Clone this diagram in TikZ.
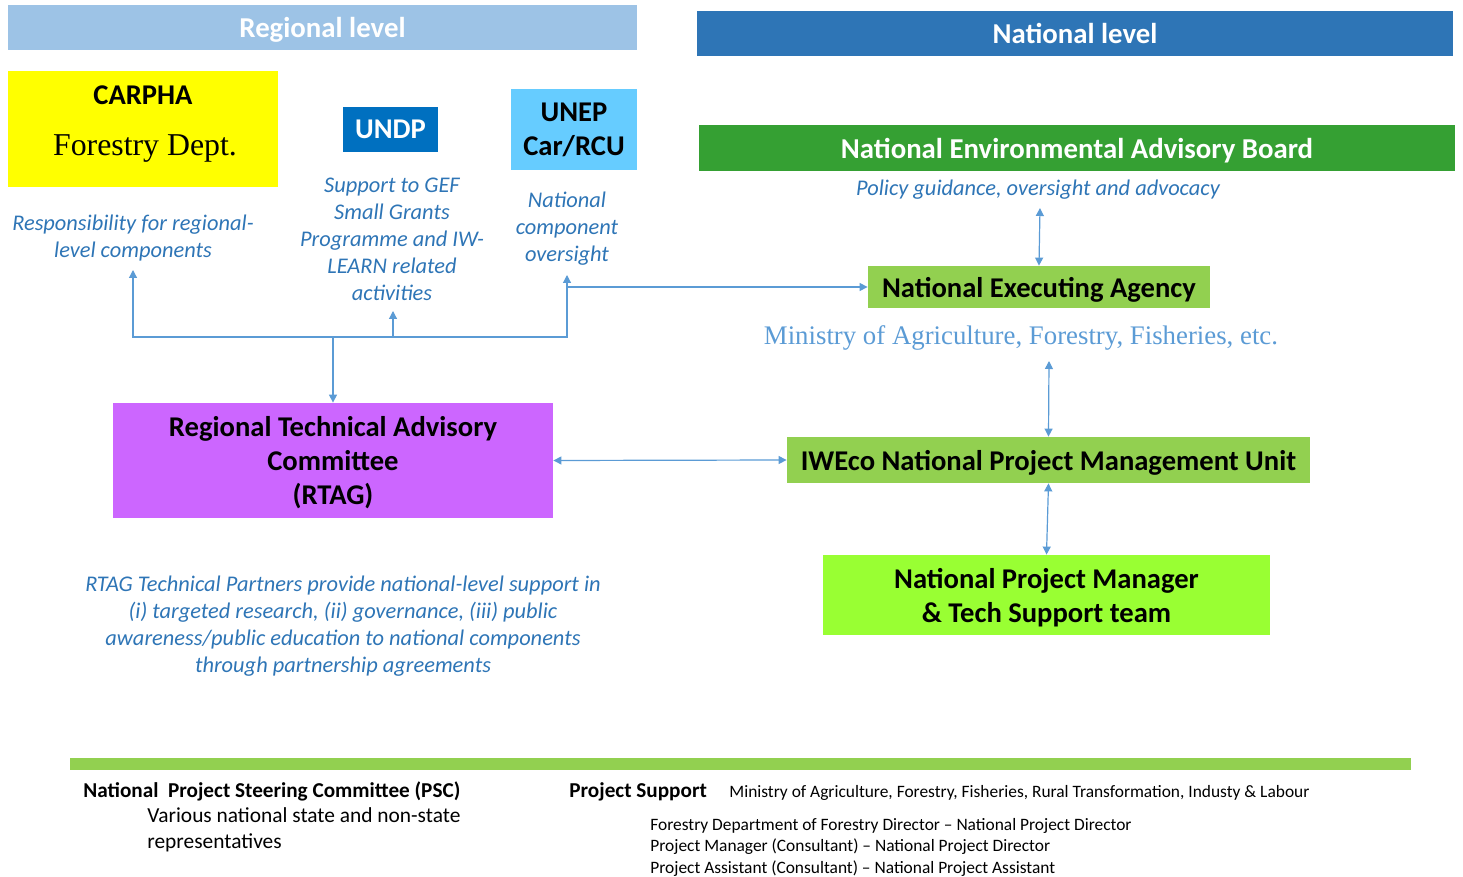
\documentclass[tikz,border=0pt]{standalone}
\usepackage{fontspec}
\setmainfont{Carlito}
\newfontfamily\timesfont{Liberation Serif}
\usetikzlibrary{arrows.meta,calc}
\definecolor{regionalbar}{HTML}{9DC3E6}
\definecolor{nationalbar}{HTML}{2E75B6}
\definecolor{carpha}{HTML}{FFFF00}
\definecolor{undp}{HTML}{0070C0}
\definecolor{unep}{HTML}{66CCFF}
\definecolor{neab}{HTML}{35A033}
\definecolor{leaf}{HTML}{92D050}
\definecolor{rtag}{HTML}{CC66FF}
\definecolor{lime}{HTML}{99FF33}
\definecolor{noteblue}{HTML}{2E75B6}
\definecolor{softblue}{HTML}{5B9BD5}
\tikzset{
  level bar/.style={inner sep=0pt, text depth=0pt, text=white, font=\bfseries\fontsize{14.4}{17}\selectfont},
  org box/.style={inner sep=0pt, text depth=0pt, align=center, font=\bfseries\fontsize{14.3}{17}\selectfont},
  note/.style={align=center, text=noteblue, font=\itshape\fontsize{11.2}{13.5}\selectfont},
  flow/.style={-{Triangle[length=4pt,width=4pt]}, softblue, line width=.6pt},
  both ways/.style={flow, {Triangle[length=4pt,width=4pt]}-{Triangle[length=4pt,width=4pt]}},
  psc text/.style={anchor=base west, inner sep=0pt, font=\fontsize{10.7}{13}\selectfont},
  staff text/.style={anchor=base west, inner sep=0pt, font=\fontsize{8.7}{10}\selectfont},
}

\begin{document}
\begin{tikzpicture}[x=0.5pt,y=-0.5pt]
  \useasboundingbox (0,0) rectangle (1463,877);

  % level headers
  \node[level bar, fill=regionalbar, minimum width=314.5pt, minimum height=22.5pt] (regional) at (322.5,27.5) {Regional level};
  \node[level bar, fill=nationalbar, minimum width=378pt, minimum height=22.5pt] (national) at (1075,33.5) {National level};

  % regional partners
  \node[org box, fill=carpha, minimum width=135pt, minimum height=58pt] (carpha) at (143,129) {};
  \node[org box] (carphaname) at (143,95) {CARPHA};
  \node[font=\timesfont\fontsize{15.9}{19}\selectfont] (forestry) at (145,149) {Forestry Dept.};
  \node[org box, fill=undp, text=white, minimum width=47.5pt, minimum height=22.5pt] (undp) at (390.5,129.5) {UNDP};
  \node[org box, fill=unep, minimum width=63pt, minimum height=40.5pt] (unep) at (574,129.5) {UNEP\\Car/RCU};

  \node[note] (resp) at (133,238) {Responsibility for regional-\\level components};
  \node[note] (undpnote) at (392,239) {Support to GEF\\Small Grants\\Programme and IW-\\LEARN related\\activities};
  \node[note] (unepnote) at (567,229) {National\\component\\oversight};

  % national chain
  \node[level bar, fill=neab, minimum width=378pt, minimum height=23pt] (neab) at (1077,148) {National Environmental Advisory Board};
  \node[note] (policy) at (1038,190) {Policy guidance, oversight and advocacy};
  \node[org box, fill=leaf, minimum width=171pt, minimum height=21pt] (nea) at (1039,287) {National Executing Agency};
  \node[text=softblue, font=\timesfont\fontsize{13.4}{15}\selectfont] (ministry) at (1021,338) {Ministry of Agriculture, Forestry, Fisheries, etc.};
  \node[org box, fill=leaf, minimum width=261.5pt, minimum height=23pt] (iweco) at (1048.5,460) {IWEco National Project Management Unit};
  \node[org box, fill=lime, minimum width=223.5pt, minimum height=40pt] (npm) at (1046.5,595) {National Project Manager\\\& Tech Support team};

  % regional committee
  \node[org box, fill=rtag, minimum width=220pt, minimum height=57.5pt] (rtag) at (333,460.5) {Regional Technical Advisory\\Committee\\(RTAG)};
  \node[note] (rtagnote) at (343,626.5) {RTAG Technical Partners provide national-level support in\\(i) targeted research, (ii) governance, (iii) public\\awareness/public education to national components\\through partnership agreements};

  % connectors
  \coordinate (split) at (333,337);
  \coordinate (resptip) at (133,270);
  \coordinate (undptip) at (393,311);
  \coordinate (uneptip) at (567,275);
  \coordinate (policytip) at (1040,208);
  \coordinate (ministrytip) at (1049,361);
  \draw[flow] (split) -- (rtag.north);
  \draw[flow] (split) -| (resptip);
  \draw[flow] (split) -| (undptip);
  \draw[flow] (undptip |- split) -| (uneptip);
  \draw[flow] (uneptip |- nea) -- (nea.west);
  \draw[both ways] (policytip) -- (nea.north);
  \draw[both ways] (ministrytip) -- (iweco.north);
  \draw[both ways] (iweco.south) -- (npm.north);
  \draw[both ways] (rtag.east) -- (iweco.west);

  % steering committee and project support
  \fill[leaf] (70,758) rectangle (1411,770);
  \node[psc text, font=\bfseries\fontsize{10.6}{13}\selectfont] (psc) at (83,797) {National\ \ Project Steering Committee (PSC)};
  \node[psc text] (pscmembers) at (147,822) {Various national state and non-state};
  \node[psc text] (pscmembers2) at (147,848) {representatives};
  \node[psc text, font=\bfseries\fontsize{10.6}{13}\selectfont] (support) at (569,797) {Project Support};
  \node[staff text] (supportmin) at (729,797) {Ministry of Agriculture, Forestry, Fisheries, Rural Transformation, Industy \& Labour};
  \node[staff text] (staffa) at (650,830) {Forestry Department of Forestry Director -- National Project Director};
  \node[staff text] (staffb) at (650,851) {Project Manager (Consultant) -- National Project Director};
  \node[staff text] (staffc) at (650,873) {Project Assistant (Consultant) -- National Project Assistant};
\end{tikzpicture}
\end{document}
